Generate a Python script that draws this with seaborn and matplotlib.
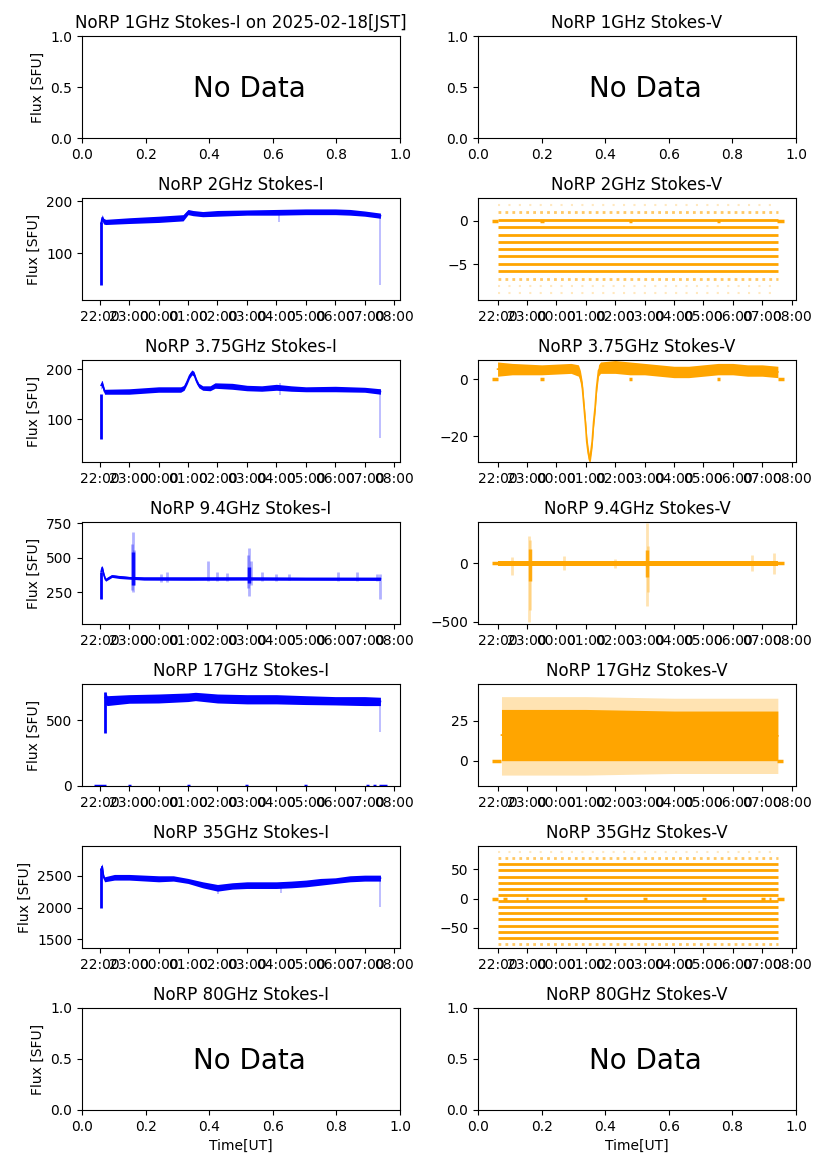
import matplotlib
matplotlib.use("Agg")
import matplotlib.pyplot as plt
import matplotlib.dates as mdates
import numpy as np
import pandas as pd
import seaborn as sns

# ---- data (times in UT, 2025-02-17 evening -> 2025-02-18 morning) ----

# 2 GHz Stokes-I band
i2_t  = ["22:03","22:05","22:08","22:12","23:00","00:00","00:50","01:00","01:10","01:30","02:00","03:00","04:00","05:00","06:00","06:30","07:00","07:32"]
i2_lo = [150, 162, 156, 155, 157, 159, 162, 174, 172, 170, 171, 173, 173, 174, 174, 173, 171, 167]
i2_hi = [165, 174, 167, 165, 168, 171, 174, 184, 182, 180, 182, 183, 184, 185, 185, 184, 181, 177]
i2_edge_t, i2_edge_lo, i2_edge_hi = ["22:02"], [38], [160]
i2_spk_t, i2_spk_lo, i2_spk_hi = ["04:06", "07:32"], [160, 38], [178, 172]

# 3.75 GHz Stokes-I band
i3_t  = ["22:03","22:05","22:10","23:00","00:00","00:45","00:52","00:58","01:03","01:08","01:12","01:17","01:22","01:30","01:45","01:55","02:30","03:00","03:30","04:00","04:30","05:00","06:00","07:00","07:32"]
i3_lo = [160, 165, 150, 150, 154, 154, 158, 170, 182, 189, 186, 172, 163, 158, 157, 162, 160, 157, 156, 158, 156, 155, 155, 154, 150]
i3_hi = [176, 178, 160, 161, 165, 165, 168, 180, 192, 199, 196, 182, 172, 167, 167, 173, 172, 168, 167, 170, 167, 165, 166, 164, 161]
i3_edge_t, i3_edge_lo, i3_edge_hi = ["22:02"], [60], [150]
i3_spk_t, i3_spk_lo, i3_spk_hi = ["04:08", "07:32"], [148, 62], [172, 160]

# 9.4 GHz Stokes-I band
i9_t  = ["22:03","22:05","22:08","22:12","22:25","22:40","23:00","23:30","01:00","03:00","05:00","07:32"]
i9_lo = [380, 415, 360, 330, 358, 350, 345, 338, 337, 338, 337, 336]
i9_hi = [420, 445, 400, 350, 378, 372, 365, 362, 362, 362, 360, 360]
i9_edge_t, i9_edge_lo, i9_edge_hi = ["22:02"], [200], [400]
i9_burst_t, i9_burst_lo, i9_burst_hi = ["23:07", "03:05"], [300, 320], [540, 430]
i9_spk_t  = ["23:05","23:07","23:09","00:05","00:18","01:41","02:00","02:20","03:02","03:05","03:08","03:30","04:00","04:25","06:05","06:45","07:25","07:32"]
i9_spk_lo = [270, 250, 300, 325, 325, 330, 330, 330, 280, 220, 300, 330, 330, 340, 335, 335, 330, 200]
i9_spk_hi = [600, 690, 560, 385, 395, 480, 400, 390, 520, 570, 480, 400, 385, 380, 400, 400, 385, 380]

# 17 GHz Stokes-I band
i17_t  = ["22:11","22:15","23:00","00:00","01:00","01:15","02:00","03:00","04:00","05:00","06:00","07:00","07:32"]
i17_lo = [630, 614, 632, 634, 645, 652, 634, 627, 627, 622, 619, 614, 614]
i17_hi = [720, 690, 698, 703, 711, 716, 703, 698, 698, 690, 683, 683, 678]
i17_edge_t, i17_edge_lo, i17_edge_hi = ["22:10"], [400], [720]
i17_spk_t, i17_spk_lo, i17_spk_hi = ["07:32"], [410], [660]
i17_zero_a = ["21:48","22:57","00:57","02:57","04:57","07:03","07:16","07:30"]
i17_zero_b = ["22:12","23:03","01:03","03:03","05:03","07:09","07:22","07:46"]

# 35 GHz Stokes-I band
i35_t  = ["22:03","22:05","22:08","22:10","22:30","23:00","00:00","00:30","01:00","01:30","02:00","02:30","03:00","04:00","04:30","05:00","05:30","06:00","06:30","07:00","07:32"]
i35_lo = [2550, 2600, 2440, 2405, 2432, 2432, 2405, 2416, 2379, 2310, 2258, 2290, 2300, 2300, 2310, 2326, 2352, 2379, 2405, 2416, 2416]
i35_hi = [2640, 2690, 2520, 2484, 2521, 2521, 2500, 2500, 2458, 2405, 2363, 2390, 2405, 2405, 2416, 2432, 2458, 2468, 2500, 2510, 2510]
i35_edge_t, i35_edge_lo, i35_edge_hi = ["22:02"], [2000], [2620]
i35_spk_t, i35_spk_lo, i35_spk_hi = ["02:02", "04:10", "07:32"], [2221, 2230, 2010], [2300, 2300, 2450]

# 2 GHz Stokes-V quantised levels
v2_full = [0.1, -0.75, -1.6, -2.45, -3.3, -4.1, -4.95, -5.8]
v2_part = [0.95, -6.65]
v2_rare = [1.8, -7.5, -8.3]
v2_zero_a = ["21:48","23:27","02:28","05:27","07:31"]
v2_zero_b = ["22:00","23:34","02:35","05:33","07:45"]

# 3.75 GHz Stokes-V band
v3_t  = ["22:00","22:30","23:30","00:30","00:45","00:49","00:53","00:57","01:00","01:02","01:05","01:08","01:10","01:13","01:16","01:19","01:22","01:26","01:30","02:00","02:30","03:00","03:30","04:00","04:30","05:00","05:30","06:00","06:30","07:00","07:32"]
v3_lo = [1, 1.5, 1.5, 2, 1, -1, -5, -13, -19, -24, -28, -30, -28, -24, -17, -12, -5, 1, 2, 2, 1.5, 1.5, 1, 0.5, 0.5, 1, 1.5, 1.5, 1, 1, 0.5]
v3_hi = [6, 5.5, 5, 5.5, 5, 3, -1, -9, -15, -20, -24, -27, -24, -20, -13, -8, -1, 5, 6, 6.5, 6, 5.5, 5, 4.5, 4.5, 5, 5.5, 5.5, 5, 5, 4.5]
v3_zero_a = ["21:48","23:27","02:28","05:27","07:32"]
v3_zero_b = ["22:00","23:34","02:35","05:33","07:45"]

# 9.4 GHz Stokes-V
v9_t, v9_lo, v9_hi = ["22:00", "07:32"], [-20, -20], [20, 20]
v9_burst_t, v9_burst_lo, v9_burst_hi = ["23:06", "03:05"], [-150, -120], [120, 110]
v9_spk_t  = ["22:30","23:05","23:07","00:15","02:00","03:04","03:06","06:40","07:25"]
v9_spk_lo = [-100, -500, -400, -60, -40, -370, -250, -70, -90]
v9_spk_hi = [50, 230, 200, 60, 40, 345, 150, 70, 90]
v9_zero_a, v9_zero_b = ["21:48"], ["07:45"]

# 17 GHz Stokes-V band (dense core + sparse halo)
v17_t  = ["22:08", "01:00", "04:00", "07:32"]
v17_lo = [0, 0, 0, 0]
v17_hi = [32, 32, 31, 31]
v17_out_lo = [-9, -9, -8, -8]
v17_out_hi = [40, 40, 39, 39]
v17_zero_a = ["21:48", "07:30"]
v17_zero_b = ["22:08", "07:43"]

# 35 GHz Stokes-V quantised levels
v35_full = [58.2, 47.8, 37.4, 27.0, 16.6, 6.2, -4.2, -14.6, -25.0, -35.4, -45.8, -56.2, -66.6]
v35_part = [68.6, -77.0]
v35_rare = [79.0]
v35_zero_a = ["21:48","22:12","22:57","00:57","02:57","04:57","06:58","07:13","07:30"]
v35_zero_b = ["22:00","22:20","23:03","01:03","03:05","05:05","07:05","07:19","07:45"]

freqs = ["1GHz", "2GHz", "3.75GHz", "9.4GHz", "17GHz", "35GHz", "80GHz"]


def ts(s):
    h, m = map(int, s.split(":"))
    day = 17 if h >= 12 else 18
    return pd.Timestamp(2025, 2, day, h, m).to_pydatetime()


def hm(lst):
    return [ts(s) for s in lst]


def band(ax, t, lo, hi, color, alpha=1.0):
    x = hm(t)
    ax.fill_between(x, lo, hi, color=color, alpha=alpha, lw=0)
    if alpha == 1.0:
        mid = (np.array(lo) + np.array(hi)) / 2
        sns.lineplot(x=x, y=mid, color=color, lw=1.2, ax=ax)


def spikes(ax, t, lo, hi, color, alpha=0.3, lw=1.2):
    ax.vlines(hm(t), lo, hi, color=color, alpha=alpha, lw=lw)


def zeros(ax, a, b, color):
    ax.hlines([0] * len(a), hm(a), hm(b), color=color, lw=2.5)


def levels(ax, full, part, rare, color):
    t0, t1 = ts("22:00"), ts("07:32")
    ax.hlines(full, t0, t1, color=color, lw=2)
    ax.hlines(part, t0, t1, color=color, lw=2, alpha=0.6, linestyles=(0, (1, 1.5)))
    ax.hlines(rare, t0, t1, color=color, lw=1.5, alpha=0.25, linestyles=(0, (1, 4)))


fig, axes = plt.subplots(7, 2, figsize=(8.27, 11.69), dpi=100)
plt.subplots_adjust(left=0.0992, right=0.9625, top=0.9692, bottom=0.0505,
                    wspace=0.245, hspace=0.588)

for r, f in enumerate(freqs):
    axes[r, 0].set_title(f"NoRP {f} Stokes-I")
    axes[r, 1].set_title(f"NoRP {f} Stokes-V")
    axes[r, 0].set_ylabel("Flux [SFU]")
axes[0, 0].set_title("NoRP 1GHz Stokes-I on 2025-02-18[JST]")
axes[6, 0].set_xlabel("Time[UT]")
axes[6, 1].set_xlabel("Time[UT]")

for ax in [axes[0, 0], axes[0, 1], axes[6, 0], axes[6, 1]]:
    ax.text(0.35, 0.4, "No Data", fontsize=20)

B, O = "blue", "orange"

# Stokes-I panels
ax = axes[1, 0]
band(ax, i2_t, i2_lo, i2_hi, B)
spikes(ax, i2_edge_t, i2_edge_lo, i2_edge_hi, B, 1, 2)
spikes(ax, i2_spk_t, i2_spk_lo, i2_spk_hi, B)
ax.set_ylim(10, 206)

ax = axes[2, 0]
band(ax, i3_t, i3_lo, i3_hi, B)
spikes(ax, i3_edge_t, i3_edge_lo, i3_edge_hi, B, 1, 2)
spikes(ax, i3_spk_t, i3_spk_lo, i3_spk_hi, B)
ax.set_ylim(13.5, 219)

ax = axes[3, 0]
band(ax, i9_t, i9_lo, i9_hi, B)
spikes(ax, i9_edge_t, i9_edge_lo, i9_edge_hi, B, 1, 2)
spikes(ax, i9_burst_t, i9_burst_lo, i9_burst_hi, B, 0.9, 2.5)
spikes(ax, i9_spk_t, i9_spk_lo, i9_spk_hi, B, 0.3, 2)
ax.set_ylim(20, 760)
ax.set_yticks([250, 500, 750])

ax = axes[4, 0]
band(ax, i17_t, i17_lo, i17_hi, B)
spikes(ax, i17_edge_t, i17_edge_lo, i17_edge_hi, B, 1, 2)
spikes(ax, i17_spk_t, i17_spk_lo, i17_spk_hi, B)
zeros(ax, i17_zero_a, i17_zero_b, B)
ax.set_ylim(-3, 780)
ax.set_yticks([0, 500])

ax = axes[5, 0]
band(ax, i35_t, i35_lo, i35_hi, B)
spikes(ax, i35_edge_t, i35_edge_lo, i35_edge_hi, B, 1, 2)
spikes(ax, i35_spk_t, i35_spk_lo, i35_spk_hi, B)
ax.set_ylim(1364, 2969)
ax.set_yticks([1500, 2000, 2500])

# Stokes-V panels
ax = axes[1, 1]
levels(ax, v2_full, v2_part, v2_rare, O)
zeros(ax, v2_zero_a, v2_zero_b, O)
ax.set_ylim(-9.1, 2.6)
ax.set_yticks([-5, 0])

ax = axes[2, 1]
band(ax, v3_t, v3_lo, v3_hi, O)
zeros(ax, v3_zero_a, v3_zero_b, O)
ax.set_ylim(-29.1, 6.7)
ax.set_yticks([-20, 0])

ax = axes[3, 1]
zeros(ax, v9_zero_a, v9_zero_b, O)
band(ax, v9_t, v9_lo, v9_hi, O)
spikes(ax, v9_burst_t, v9_burst_lo, v9_burst_hi, O, 0.9, 2.5)
spikes(ax, v9_spk_t, v9_spk_lo, v9_spk_hi, O, 0.3, 2)
ax.set_ylim(-520, 354)
ax.set_yticks([-500, 0])

ax = axes[4, 1]
band(ax, v17_t, v17_out_lo, v17_out_hi, O, 0.3)
band(ax, v17_t, v17_lo, v17_hi, O)
zeros(ax, v17_zero_a, v17_zero_b, O)
ax.set_ylim(-15.8, 47.9)
ax.set_yticks([0, 25])

ax = axes[5, 1]
levels(ax, v35_full, v35_part, v35_rare, O)
zeros(ax, v35_zero_a, v35_zero_b, O)
ax.set_ylim(-84, 89.5)
ax.set_yticks([-50, 0, 50])

for r in range(1, 6):
    for c in range(2):
        ax = axes[r, c]
        ax.xaxis.set_major_locator(mdates.HourLocator())
        ax.xaxis.set_major_formatter(mdates.DateFormatter("%H:%M"))
        if c == 0:
            ax.set_xlim(ts("21:24"), ts("08:12"))
        else:
            ax.set_xlim(ts("21:20"), ts("08:09"))
        ax.set_xlabel("")

fig.savefig("out.png", dpi=100)
